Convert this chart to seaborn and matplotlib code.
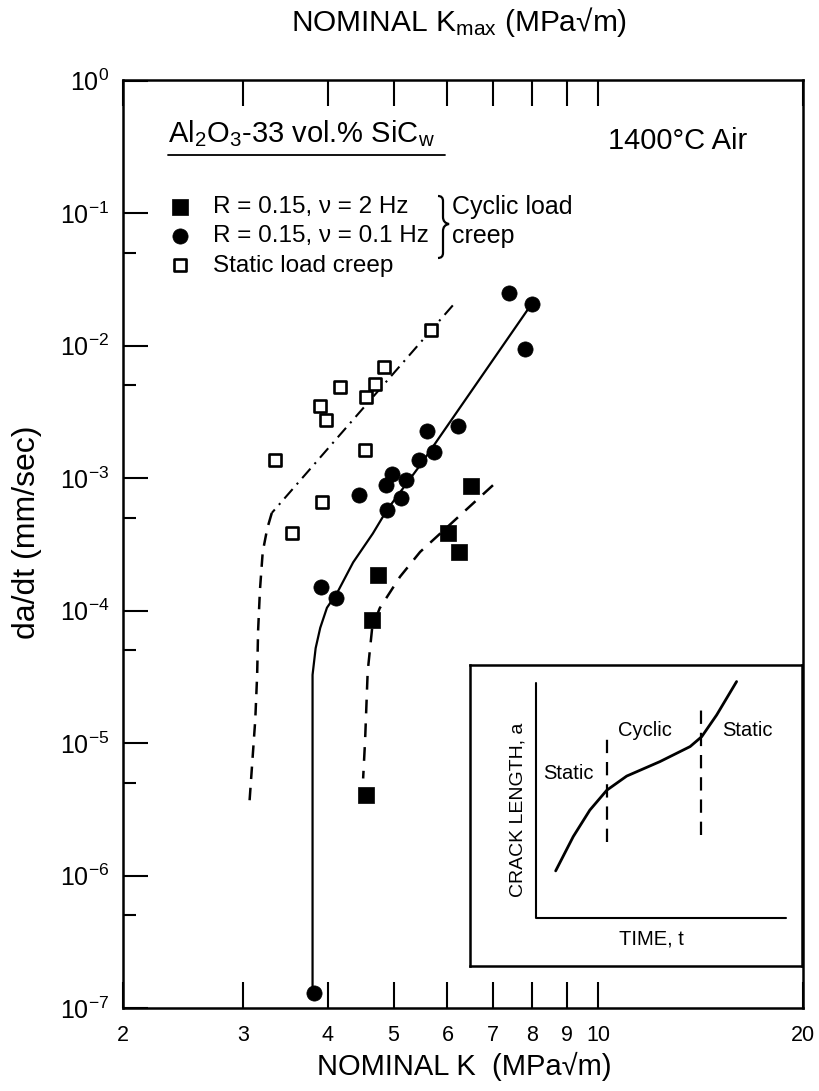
import matplotlib
matplotlib.use("Agg")
import matplotlib.pyplot as plt
from matplotlib.ticker import FixedLocator, FixedFormatter, NullLocator, LogFormatterSciNotation, NullFormatter
from matplotlib.path import Path
from matplotlib.patches import PathPatch
import seaborn as sns

# ---------------- data ----------------
x_ticks = [2, 3, 4, 5, 6, 7, 8, 9, 10, 20]
x_tick_labels = ["2", "3", "4", "5", "6", "7", "8", "9", "10", "20"]
y_major = [1e-7, 1e-6, 1e-5, 1e-4, 1e-3, 1e-2, 1e-1, 1e0]
y_minor = [5e-7, 5e-6, 5e-5, 5e-4, 5e-3, 5e-2]

# cyclic, R = 0.15, 2 Hz (filled squares)
cyc2_K = [6.50, 6.01, 6.24, 4.74, 4.65, 4.55]
cyc2_v = [8.7e-4, 3.88e-4, 2.77e-4, 1.84e-4, 8.5e-5, 4.05e-6]
# cyclic, R = 0.15, 0.1 Hz (filled circles)
cyc01_K = [7.39, 7.99, 7.80, 5.60, 6.22, 5.73, 5.45, 4.97, 4.87, 5.21,
           5.13, 4.89, 4.45, 3.91, 4.11, 3.82]
cyc01_v = [2.48e-2, 2.05e-2, 9.5e-3, 2.25e-3, 2.45e-3, 1.58e-3, 1.38e-3,
           1.07e-3, 8.8e-4, 9.6e-4, 7.1e-4, 5.75e-4, 7.4e-4, 1.51e-4,
           1.24e-4, 1.29e-7]
# static load creep (open squares)
stat_K = [3.35, 3.54, 3.92, 3.90, 3.98, 4.17, 4.54, 4.55, 4.70, 4.84, 5.68]
stat_v = [1.38e-3, 3.88e-4, 6.6e-4, 3.50e-3, 2.76e-3, 4.83e-3, 1.63e-3,
          4.07e-3, 5.17e-3, 6.89e-3, 1.32e-2]

# trend curves
stat_fit_K = [6.11, 3.31]
stat_fit_v = [2.01e-2, 5.45e-4]
stat_tail_K = [3.31, 3.26, 3.21, 3.18, 3.16, 3.15, 3.13, 3.07]
stat_tail_v = [5.45e-4, 4.17e-4, 2.77e-4, 1.43e-4, 7.0e-5, 3.27e-5, 1.5e-5, 3.65e-6]
cyc01_fit_K = [7.99, 5.47, 4.89, 4.66, 4.36, 4.13, 3.99, 3.90, 3.84, 3.80, 3.80, 3.80]
cyc01_fit_v = [2.08e-2, 1.25e-3, 5.75e-4, 3.81e-4, 2.31e-4, 1.36e-4, 1.05e-4,
               7.4e-5, 5.2e-5, 3.27e-5, 1.5e-5, 1.35e-7]
cyc2_fit_K = [7.00, 5.47, 5.11, 4.77, 4.65, 4.58, 4.54, 4.51]
cyc2_fit_v = [8.83e-4, 2.77e-4, 1.8e-4, 1.04e-4, 7.4e-5, 3.46e-5, 1.05e-5, 5.4e-6]

# inset schematic (crack length vs time, normalised units)
inset_t = [0.258, 0.311, 0.361, 0.412, 0.472, 0.572, 0.663, 0.698, 0.743, 0.803]
inset_a = [0.316, 0.430, 0.518, 0.584, 0.631, 0.679, 0.729, 0.762, 0.834, 0.945]

# ---------------- style ----------------
sns.set_style("white")
plt.rcParams.update({
    "axes.edgecolor": "black",
    "axes.linewidth": 1.8,
    "text.color": "black",
    "axes.labelcolor": "black",
    "xtick.color": "black",
    "ytick.color": "black",
    "mathtext.fontset": "custom",
    "mathtext.rm": "Liberation Sans",
    "mathtext.it": "Liberation Sans:italic",
    "mathtext.bf": "Liberation Sans:bold",
    "mathtext.default": "regular",
})
plt.rcParams["font.family"] = ["Liberation Sans", "DejaVu Sans"]

fig = plt.figure(figsize=(8.19, 10.91), dpi=100)
ax = fig.add_axes([123 / 819, 1 - 1008 / 1091, 680 / 819, 928 / 1091])
ax.set_xscale("log")
ax.set_yscale("log")

# trend lines
sns.lineplot(x=stat_fit_K, y=stat_fit_v, sort=False, estimator=None,
             color="black", linewidth=1.5, ax=ax)
ax.lines[-1].set_dashes((6, 3, 1, 3))
sns.lineplot(x=stat_tail_K, y=stat_tail_v, sort=False, estimator=None,
             color="black", linewidth=1.8, ax=ax)
ax.lines[-1].set_dashes((5, 3.5))
sns.lineplot(x=cyc01_fit_K, y=cyc01_fit_v, sort=False, estimator=None,
             color="black", linewidth=1.6, ax=ax)
sns.lineplot(x=cyc2_fit_K, y=cyc2_fit_v, sort=False, estimator=None,
             color="black", linewidth=1.8, ax=ax)
ax.lines[-1].set_dashes((5.5, 4))

# markers
sns.scatterplot(x=cyc2_K, y=cyc2_v, marker="s", s=130, color="black",
                edgecolor="black", linewidth=0.5, ax=ax, zorder=4,
                label="R = 0.15, \u03bd = 2 Hz")
sns.scatterplot(x=cyc01_K, y=cyc01_v, marker="o", s=120, color="black",
                edgecolor="black", linewidth=0.5, ax=ax, zorder=4,
                label="R = 0.15, \u03bd = 0.1 Hz")
sns.scatterplot(x=stat_K, y=stat_v, marker="s", s=72, facecolor="white",
                edgecolor="black", linewidth=1.9, ax=ax, zorder=4,
                label="Static load creep")

ax.set_xlim(2, 20)
ax.set_ylim(1e-7, 1.01)

ax.xaxis.set_major_locator(FixedLocator(x_ticks))
ax.xaxis.set_major_formatter(FixedFormatter(x_tick_labels))
ax.xaxis.set_minor_locator(NullLocator())
ax.yaxis.set_major_locator(FixedLocator(y_major))
ax.yaxis.set_major_formatter(LogFormatterSciNotation())
ax.yaxis.set_minor_locator(FixedLocator(y_minor))
ax.yaxis.set_minor_formatter(NullFormatter())

ax.tick_params(axis="x", which="major", direction="in", length=19, width=1.5,
               top=True, bottom=True, labeltop=False, labelsize=15.5, pad=12)
ax.tick_params(axis="y", which="major", direction="in", length=18, width=1.5,
               left=True, right=False, labelsize=18, pad=10)
ax.tick_params(axis="y", which="minor", direction="in", length=9.5, width=1.5,
               left=True, right=False)

ax.set_xlabel("NOMINAL K  (MPa\u221am)", fontsize=21)
ax.xaxis.set_label_coords(0.5015, -0.0474)
ax.set_ylabel("da/dt (mm/sec)", fontsize=23)
ax.yaxis.set_label_coords(-0.119, 0.513)

fig.text(459 / 819, 1 - 31 / 1091, "NOMINAL K$_{max}$ (MPa\u221am)",
         fontsize=21.5, ha="center", va="baseline")

# title + underline
ax.text(0.066, 0.933, "Al$_2$O$_3$-33 vol.% SiC$_w$", fontsize=21,
        transform=ax.transAxes, ha="left", va="baseline")
ax.plot([0.066, 0.4735], [0.9192, 0.9192], transform=ax.transAxes,
        color="black", lw=1.3, clip_on=False)
ax.text(0.713, 0.934, "1400\u00b0C Air", fontsize=21,
        transform=ax.transAxes, ha="left", va="center")

# legend
handles = ax.collections[-3:]
labels = ["R = 0.15, \u03bd = 2 Hz", "R = 0.15, \u03bd = 0.1 Hz", "Static load creep"]
ax.legend(handles, labels, loc="upper left", bbox_to_anchor=(0.066, 0.875),
          borderaxespad=0, borderpad=0, handlelength=1.0, handletextpad=0.85,
          labelspacing=0.3, fontsize=17.5, frameon=False)

# brace and group label
def axx(px):
    return (px - 123) / 680

def axy(py):
    return (1008 - py) / 928

bx = 443
verts = [(axx(bx - 5), axy(196)), (axx(bx), axy(196)), (axx(bx), axy(201)),
         (axx(bx), axy(217)), (axx(bx), axy(223)), (axx(bx + 6), axy(224)),
         (axx(bx), axy(225)), (axx(bx), axy(231)), (axx(bx), axy(253)),
         (axx(bx), axy(258)), (axx(bx - 5), axy(258))]
codes = [Path.MOVETO, Path.CURVE3, Path.CURVE3, Path.LINETO, Path.CURVE3,
         Path.CURVE3, Path.CURVE3, Path.CURVE3, Path.LINETO, Path.CURVE3, Path.CURVE3]
ax.add_patch(PathPatch(Path(verts, codes), transform=ax.transAxes, fill=False,
                       lw=1.6, color="black", clip_on=False))
ax.text(axx(452), axy(207), "Cyclic load", fontsize=18, transform=ax.transAxes,
        ha="left", va="center")
ax.text(axx(452), axy(236), "creep", fontsize=18, transform=ax.transAxes,
        ha="left", va="center")

# ---------------- inset ----------------
ax_in = fig.add_axes([470 / 819, 1 - 966 / 1091, 332 / 819, 301 / 1091])
ax_in.set_xlim(0, 1)
ax_in.set_ylim(0, 1)
ax_in.set_xticks([])
ax_in.set_yticks([])
for sp in ax_in.spines.values():
    sp.set_linewidth(1.8)
    sp.set_color("black")
ax_in.plot([0.199, 0.199, 0.952], [0.940, 0.159, 0.159], color="black", lw=1.5)
sns.lineplot(x=inset_t, y=inset_a, sort=False, estimator=None, color="black",
             linewidth=2.0, ax=ax_in)
ax_in.plot([0.413, 0.413], [0.412, 0.777], color="black", lw=1.6, dashes=(6, 4))
ax_in.plot([0.696, 0.696], [0.435, 0.874], color="black", lw=1.6, dashes=(6, 4))
ax_in.text(0.295, 0.638, "Static", fontsize=14.5, ha="center", va="center")
ax_in.text(0.527, 0.781, "Cyclic", fontsize=14.5, ha="center", va="center")
ax_in.text(0.837, 0.781, "Static", fontsize=14.5, ha="center", va="center")
ax_in.text(0.145, 0.518, "CRACK LENGTH, a", fontsize=14, ha="center",
           va="center", rotation=90)
ax_in.text(0.548, 0.090, "TIME, t", fontsize=14.5, ha="center", va="center")
ax_in.set_xlabel("")
ax_in.set_ylabel("")

fig.savefig("out.png", dpi=100)
